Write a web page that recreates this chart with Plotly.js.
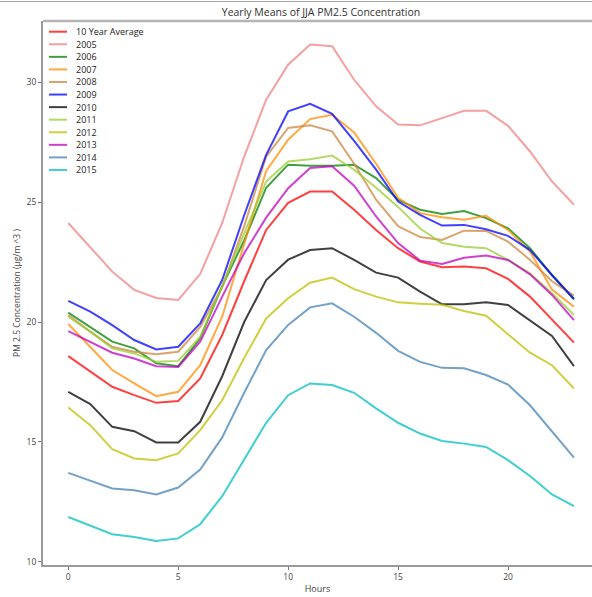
<!DOCTYPE html>
<html>
<head>
<meta charset="utf-8">
<script src="https://cdn.plot.ly/plotly-3.0.1.min.js"></script>
<style>html,body{margin:0;padding:0;background:#fff;overflow:hidden;}</style>
</head>
<body>
<div id="chart" style="width:592px;height:597px;"></div>
<script>
const hours = [0,1,2,3,4,5,6,7,8,9,10,11,12,13,14,15,16,17,18,19,20,21,22,23];

const seriesNames = ["10 Year Average","2005","2006","2007","2008","2009","2010","2011","2012","2013","2014","2015"];

const avg10 = [18.58,17.93,17.30,16.95,16.63,16.71,17.65,19.46,21.70,23.84,24.97,25.44,25.44,24.68,23.84,23.08,22.52,22.28,22.31,22.24,21.80,21.06,20.08,19.14];
const y2005 = [24.13,23.10,22.10,21.34,21.00,20.92,22.00,24.13,26.90,29.27,30.73,31.57,31.50,30.10,28.99,28.23,28.20,28.50,28.81,28.81,28.18,27.11,25.86,24.89];
const y2006 = [20.39,19.80,19.18,18.90,18.28,18.16,19.32,21.50,23.40,25.60,26.56,26.51,26.51,26.56,26.00,25.09,24.68,24.50,24.63,24.33,23.91,23.08,21.95,20.95];
const y2007 = [19.92,18.97,18.00,17.44,16.91,17.09,18.20,20.22,23.30,26.30,27.60,28.46,28.64,27.90,26.60,25.18,24.54,24.37,24.26,24.43,23.84,22.94,21.35,20.64];
const y2008 = [20.29,19.60,18.97,18.76,18.66,18.76,19.80,21.45,24.00,26.90,28.09,28.20,27.95,26.60,25.10,24.00,23.54,23.42,23.81,23.80,23.35,22.59,21.70,21.10];
const y2009 = [20.88,20.43,19.87,19.25,18.86,18.97,19.94,21.75,24.45,26.97,28.78,29.10,28.68,27.55,26.35,25.02,24.47,24.02,24.05,23.87,23.59,23.00,21.96,20.96];
const y2010 = [17.09,16.58,15.63,15.45,14.98,14.98,15.84,17.74,20.00,21.75,22.60,23.00,23.08,22.59,22.06,21.85,21.27,20.74,20.74,20.82,20.71,20.08,19.42,18.16];
const y2011 = [20.22,19.60,18.90,18.69,18.34,18.38,19.39,21.50,23.70,25.86,26.69,26.79,26.94,26.35,25.60,24.80,23.90,23.29,23.14,23.08,22.59,22.03,21.20,20.29];
const y2012 = [16.44,15.70,14.70,14.31,14.24,14.52,15.49,16.74,18.50,20.15,20.99,21.64,21.85,21.37,21.06,20.82,20.76,20.72,20.46,20.26,19.49,18.72,18.20,17.23];
const y2013 = [19.62,19.18,18.72,18.48,18.16,18.13,19.18,21.06,22.87,24.35,25.58,26.42,26.49,25.68,24.40,23.29,22.56,22.42,22.68,22.77,22.59,21.99,21.13,20.08];
const y2014 = [13.71,13.37,13.06,12.99,12.81,13.10,13.85,15.19,17.05,18.83,19.88,20.61,20.78,20.22,19.55,18.80,18.34,18.09,18.07,17.79,17.39,16.53,15.42,14.35];
const y2015 = [11.87,11.50,11.15,11.04,10.87,10.98,11.57,12.74,14.27,15.80,16.95,17.44,17.37,17.05,16.40,15.80,15.35,15.04,14.93,14.79,14.24,13.58,12.81,12.32];

const seriesValues = [avg10,y2005,y2006,y2007,y2008,y2009,y2010,y2011,y2012,y2013,y2014,y2015];
const seriesColors = ["rgb(255,0,0)","rgb(240,128,128)","rgb(0,128,0)","rgb(255,140,0)","rgb(205,133,63)","rgb(0,0,255)","rgb(0,0,0)","rgb(154,205,50)","rgb(191,191,0)","rgb(191,0,191)","rgb(70,130,180)","rgb(0,191,191)"];

const yTicks = [10,15,20,25,30];
const xTicks = [0,5,10,15,20];

const W = 592, H = 597;
const mL = 43, mR = 0, mT = 21, mB = 32;
const pw = W - mL - mR, ph = H - mT - mB;
const px2x = p => (p - mL) / pw;
const py2y = p => (H - mB - p) / ph;

const FONT = '"Open Sans", "DejaVu Sans", sans-serif';

const traces = seriesNames.map((name, i) => ({
  x: hours,
  y: seriesValues[i],
  type: 'scatter',
  mode: 'lines',
  name: name,
  opacity: 0.75,
  line: {color: seriesColors[i], width: 2},
  showlegend: false,
  hoverinfo: 'x+y+name'
}));

const shapes = [];
const annotations = [];
// legend (built from series arrays)
seriesNames.forEach((name, i) => {
  const rowY = 31.7 + i * 12.57;
  shapes.push({type:'line', xref:'paper', yref:'paper',
    x0: px2x(49), x1: px2x(67), y0: py2y(rowY), y1: py2y(rowY),
    line:{color: seriesColors[i], width: 2}, opacity: 0.75});
  annotations.push({xref:'paper', yref:'paper', x: px2x(74), y: py2y(rowY),
    xanchor:'left', yanchor:'middle', showarrow:false, text: name,
    font:{family: FONT, size: 9, color:'#222'}});
});
// top spine and outer frame line
shapes.push({type:'line', xref:'paper', yref:'paper', x0:0, x1:1, y0:1, y1:1,
  line:{color:'#b4b4b4', width:2.5}});
shapes.push({type:'line', xref:'paper', yref:'paper', x0:px2x(0), x1:1, y0:py2y(1.5), y1:py2y(1.5),
  line:{color:'#a8a8a8', width:1}});

const layout = {
  width: W, height: H,
  margin: {l: mL, r: mR, t: mT, b: mB, pad: 0},
  paper_bgcolor: '#fff', plot_bgcolor: '#fff',
  font: {family: FONT, color: '#444'},
  title: {text: 'Yearly Means of JJA PM2.5 Concentration', xref:'container', yref:'container',
    x: 321/W, y: 1 - 12/H, xanchor:'center', yanchor:'middle',
    font:{family: FONT, size: 10.5, color:'#333'}},
  xaxis: {
    range: [-1.15, 23.82], tickvals: xTicks, ticktext: xTicks.map(String),
    showgrid: false, zeroline: false, showline: true, linecolor: '#9a9a9a', linewidth: 2,
    ticks: 'outside', ticklen: 3, tickwidth: 1, tickcolor: '#777',
    tickfont: {family: FONT, size: 8.5, color:'#444'},
    title: {text: 'Hours', font:{family: FONT, size: 9, color:'#444'}, standoff: 4}
  },
  yaxis: {
    range: [9.87, 32.55], tickvals: yTicks, ticktext: yTicks.map(String),
    showgrid: false, zeroline: false, showline: true, linecolor: '#9a9a9a', linewidth: 2,
    ticks: 'outside', ticklen: 3, tickwidth: 1, tickcolor: '#777',
    tickfont: {family: FONT, size: 8.5, color:'#444'},
    title: {text: 'PM 2.5 Concentration (μg/m ^3 )', font:{family: FONT, size: 8.5, color:'#444'}, standoff: 5}
  },
  shapes: shapes,
  annotations: annotations
};

Plotly.newPlot('chart', traces, layout, {displayModeBar: false, staticPlot: true});
</script>
</body>
</html>
